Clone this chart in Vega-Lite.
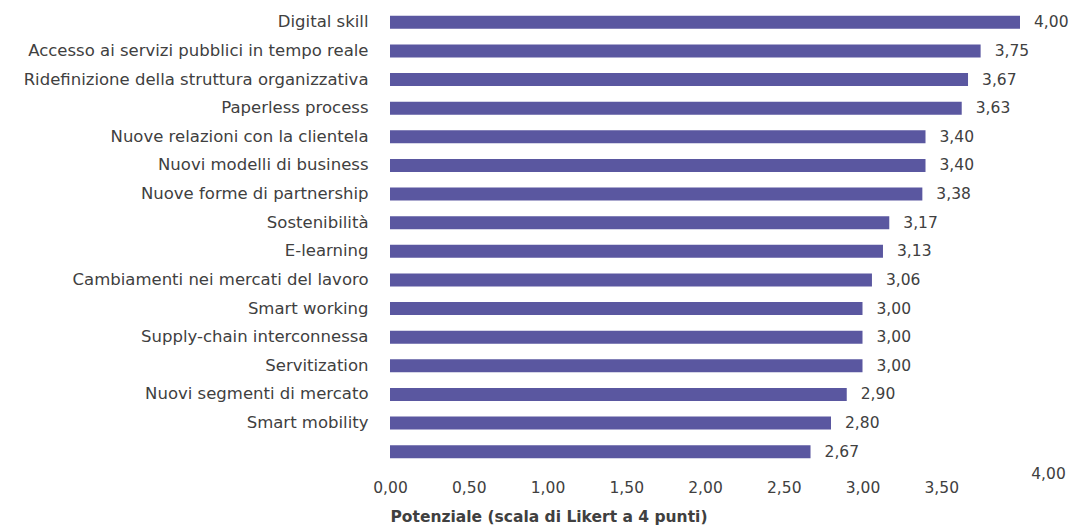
{
  "$schema": "https://vega.github.io/schema/vega-lite/v6.json",
  "autosize": {"type": "none"},
  "padding": {"left": 390, "top": 8, "right": 55, "bottom": 63},
  "width": 630,
  "height": 458,
  "background": "white",
  "config": {
    "locale": {"number": {"decimal": ",", "thousands": ".", "grouping": [3], "currency": ["€", ""]}},
    "view": {"stroke": null},
    "font": "DejaVu Sans"
  },
  "data": {
    "values": [
      {"ord": 1, "voce": "Digital skill", "valore": 4.00},
      {"ord": 2, "voce": "Accesso ai servizi pubblici in tempo reale", "valore": 3.75},
      {"ord": 3, "voce": "Ridefinizione della struttura organizzativa", "valore": 3.67},
      {"ord": 4, "voce": "Paperless process", "valore": 3.63},
      {"ord": 5, "voce": "Nuove relazioni con la clientela", "valore": 3.40},
      {"ord": 6, "voce": "Nuovi modelli di business", "valore": 3.40},
      {"ord": 7, "voce": "Nuove forme di partnership", "valore": 3.38},
      {"ord": 8, "voce": "Sostenibilità", "valore": 3.17},
      {"ord": 9, "voce": "E-learning", "valore": 3.13},
      {"ord": 10, "voce": "Cambiamenti nei mercati del lavoro", "valore": 3.06},
      {"ord": 11, "voce": "Smart working", "valore": 3.00},
      {"ord": 12, "voce": "Supply-chain interconnessa", "valore": 3.00},
      {"ord": 13, "voce": "Servitization", "valore": 3.00},
      {"ord": 14, "voce": "Nuovi segmenti di mercato", "valore": 2.90},
      {"ord": 15, "voce": "Smart mobility", "valore": 2.80},
      {"ord": 16, "voce": " ", "valore": 2.67}
    ]
  },
  "encoding": {
    "y": {
      "field": "voce",
      "type": "nominal",
      "sort": {"field": "ord", "order": "ascending"},
      "title": null,
      "axis": {
        "domain": false,
        "ticks": false,
        "labelPadding": 22,
        "labelFontSize": 16.5,
        "labelColor": "#404040",
        "labelLimit": 400
      }
    },
    "x": {
      "field": "valore",
      "type": "quantitative",
      "scale": {"domain": [0, 4], "nice": false},
      "title": "Potenziale (scala di Likert a 4 punti)",
      "axis": {
        "values": [0, 0.5, 1, 1.5, 2, 2.5, 3, 3.5, 4],
        "format": ".2f",
        "grid": false,
        "domain": false,
        "ticks": false,
        "labelPadding": {"condition": {"test": "datum.value == 4", "value": 0}, "value": 14},
        "labelOffset": {"condition": {"test": "datum.value == 4", "value": 28}, "value": 0},
        "labelFontSize": 15.5,
        "labelColor": "#404040",
        "labelFlush": false,
        "labelOverlap": false,
        "titleAnchor": "start",
        "titleAlign": "left",
        "titleFontSize": 15.5,
        "titleFontWeight": "bold",
        "titleColor": "#404040",
        "titlePadding": 14
      }
    }
  },
  "layer": [
    {"mark": {"type": "bar", "color": "#5a57a0", "size": 13}},
    {
      "mark": {"type": "text", "align": "left", "baseline": "middle", "dx": 14, "fontSize": 15.5, "color": "#404040"},
      "encoding": {"text": {"field": "valore", "type": "quantitative", "format": ".2f"}}
    }
  ]
}
